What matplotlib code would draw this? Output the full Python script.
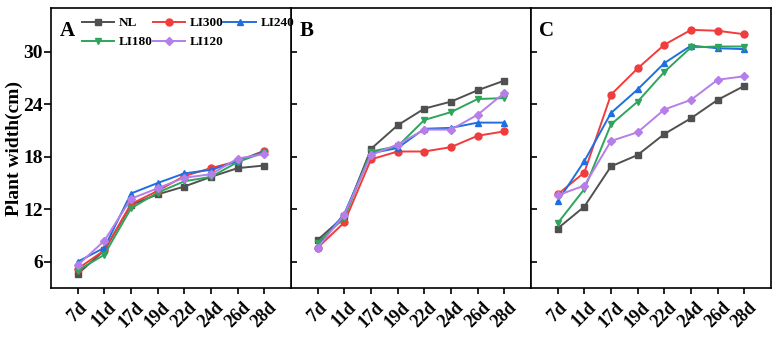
import matplotlib
matplotlib.use("Agg")
import matplotlib.pyplot as plt

plt.rcParams['font.family'] = ['Liberation Serif', 'DejaVu Serif']
plt.rcParams['font.weight'] = 'bold'

days = ["7d", "11d", "17d", "19d", "22d", "24d", "26d", "28d"]
series_names = ["NL", "LI300", "LI240", "LI180", "LI120"]

# panel A
a_nl    = [4.6, 7.3, 12.5, 13.7, 14.6, 15.7, 16.7, 17.0]
a_li300 = [5.2, 7.3, 12.6, 14.1, 15.8, 16.7, 17.5, 18.7]
a_li240 = [6.0, 7.6, 13.8, 15.0, 16.1, 16.5, 17.5, 18.6]
a_li180 = [5.0, 6.8, 12.1, 13.9, 15.2, 15.7, 17.4, 18.5]
a_li120 = [5.6, 8.4, 13.2, 14.4, 15.6, 16.0, 17.8, 18.3]
# panel B
b_nl    = [8.5, 11.2, 18.9, 21.6, 23.5, 24.3, 25.6, 26.7]
b_li300 = [7.6, 10.5, 17.7, 18.6, 18.6, 19.1, 20.4, 20.9]
b_li240 = [7.8, 11.5, 18.4, 19.0, 21.2, 21.3, 21.9, 21.9]
b_li180 = [8.2, 11.0, 18.6, 19.2, 22.2, 23.1, 24.6, 24.7]
b_li120 = [7.6, 11.4, 18.2, 19.4, 21.1, 21.1, 22.8, 25.3]
# panel C
c_nl    = [9.8, 12.3, 16.9, 18.2, 20.6, 22.4, 24.5, 26.1]
c_li300 = [13.7, 16.2, 25.1, 28.1, 30.8, 32.5, 32.4, 32.0]
c_li240 = [12.9, 17.5, 23.0, 25.7, 28.7, 30.7, 30.4, 30.3]
c_li180 = [10.4, 14.3, 21.7, 24.3, 27.7, 30.5, 30.6, 30.6]
c_li120 = [13.6, 14.7, 19.8, 20.8, 23.4, 24.5, 26.8, 27.2]

panels = {
    "A": [a_nl, a_li300, a_li240, a_li180, a_li120],
    "B": [b_nl, b_li300, b_li240, b_li180, b_li120],
    "C": [c_nl, c_li300, c_li240, c_li180, c_li120],
}
yticks = [6, 12, 18, 24, 30]

colors = ["#505050", "#f03c3c", "#1f6fe0", "#2ea45c", "#b57ee8"]
markers = ["s", "o", "^", "v", "D"]
msizes = [4.5, 5, 5, 5, 4]

fig = plt.figure(figsize=(7.81, 3.37), dpi=100)
W, H = 781, 337
x0, wpx, top, bot = 51, 240, 8, 288

xs = list(range(len(days)))
for i, (lab, data) in enumerate(panels.items()):
    ax = fig.add_axes([(x0 + i*wpx)/W, 1 - bot/H, wpx/W, (bot - top)/H])
    handles = []
    for vals, nm, c, m, ms in zip(data, series_names, colors, markers, msizes):
        h, = ax.plot(xs, vals, color=c, marker=m, ms=ms, lw=1.4, label=nm)
        handles.append(h)
    ax.set_xlim(-1, 8)
    ax.set_ylim(3, 35)
    ax.set_yticks(yticks)
    ax.set_xticks(xs)
    ax.set_xticklabels(days, rotation=45, fontsize=13, fontweight='bold')
    for s in ax.spines.values():
        s.set_linewidth(1.2)
    ax.tick_params(axis='x', direction='out', length=4, width=1.2, pad=4)
    if i == 0:
        ax.set_zorder(3)
        ax.tick_params(axis='y', direction='out', length=5, width=1.2, labelsize=14, pad=1)
        for t in ax.get_yticklabels():
            t.set_fontweight('bold')
        ax.set_ylabel("Plant width(cm)", fontsize=14, fontweight='bold')
        ax.yaxis.set_label_coords(-0.115, 0.5)
        order = [0, 3, 1, 4, 2]
        ax.legend([handles[k] for k in order], [series_names[k] for k in order],
                  ncol=3, loc='upper left', bbox_to_anchor=(0.09, 1.0), frameon=False,
                  handlelength=2.45, handletextpad=0.35, columnspacing=0.0,
                  labelspacing=0.5, borderaxespad=0.0, borderpad=0.7,
                  prop={'weight': 'bold', 'size': 9.5})
    else:
        ax.tick_params(axis='y', direction='in', length=4, width=1.2, labelleft=False)
    ax.text(0.035, 0.955, lab, transform=ax.transAxes, fontsize=15, fontweight='bold',
            va='top', ha='left')

fig.savefig("out.png", dpi=100)
